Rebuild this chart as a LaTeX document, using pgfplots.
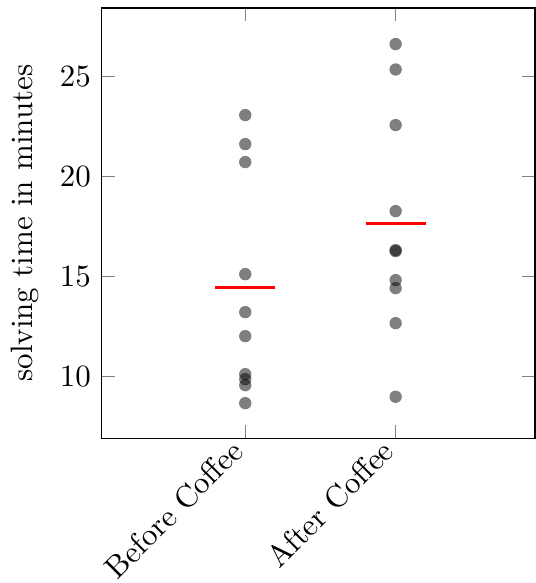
\documentclass[border=0pt]{standalone}
\usepackage{pgfplots}
\pgfplotsset{compat=1.18}
\begin{document}
\begin{tikzpicture}
\begin{axis}[
  scale only axis,
  width=140pt, height=139pt,
  xmin=-0.954, xmax=1.927,
  ymin=6.9, ymax=28.4,
  xtick={0,1},
  xticklabels={Before Coffee, After Coffee},
  xticklabel style={rotate=45, anchor=east},
  ytick={10,15,20,25},
  ylabel={solving time in minutes},
]
\addplot[only marks, mark=*, mark size=2pt, draw opacity=0, fill=black, fill opacity=0.5, mark options={draw opacity=0, fill=black, fill opacity=0.5}] coordinates {
(0,23.05) (0,21.6) (0,20.7) (0,15.1) (0,13.2) (0,12.0) (0,10.1) (0,9.85) (0,9.55) (0,8.65)
(1,26.6) (1,25.33) (1,22.55) (1,18.25) (1,16.3) (1,16.25) (1,14.8) (1,14.4) (1,12.65) (1,8.97)
};
\addplot[red, line width=1pt] coordinates {(-0.2,14.42) (0.2,14.42)};
\addplot[red, line width=1pt] coordinates {(0.8,17.63) (1.2,17.63)};
\end{axis}
\pgfresetboundingbox
\path[use as bounding box] ([xshift=-32.9pt,yshift=-46.8pt]current axis.south west) rectangle ([yshift=2.6pt]current axis.north east);
\end{tikzpicture}
\end{document}
